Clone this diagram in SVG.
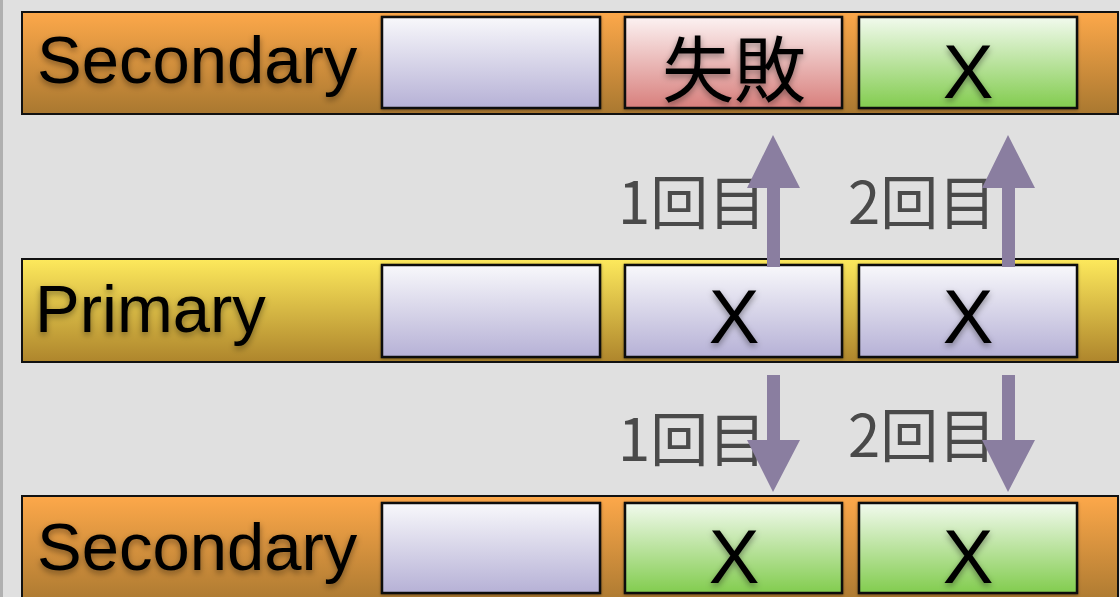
<svg xmlns="http://www.w3.org/2000/svg" width="1120" height="597" viewBox="0 0 1120 597">
<defs>
<linearGradient id="gOrange" x1="0" y1="0" x2="0" y2="1"><stop offset="0" stop-color="#fda84a"/><stop offset="1" stop-color="#a97830"/></linearGradient>
<linearGradient id="gYellow" x1="0" y1="0" x2="0" y2="1"><stop offset="0" stop-color="#fde95c"/><stop offset="1" stop-color="#ae852c"/></linearGradient>
<linearGradient id="gLav" x1="0" y1="0" x2="0" y2="1"><stop offset="0" stop-color="#f8f8fb"/><stop offset="1" stop-color="#b6b1d6"/></linearGradient>
<linearGradient id="gRed" x1="0" y1="0" x2="0" y2="1"><stop offset="0" stop-color="#fcf2f2"/><stop offset="1" stop-color="#d87f7c"/></linearGradient>
<linearGradient id="gGreen" x1="0" y1="0" x2="0" y2="1"><stop offset="0" stop-color="#f2faee"/><stop offset="1" stop-color="#82cc4e"/></linearGradient>
<filter id="tsh" x="-10%" y="-20%" width="120%" height="150%"><feDropShadow dx="0" dy="3" stdDeviation="3" flood-color="#000" flood-opacity="0.4"/></filter>
<filter id="bsh" x="-5%" y="-10%" width="110%" height="130%"><feDropShadow dx="0" dy="1" stdDeviation="1.5" flood-color="#000" flood-opacity="0.35"/></filter>
</defs>
<style>
.bar{stroke:#111;stroke-width:2}
.box{stroke:#111;stroke-width:2.5;filter:url(#bsh)}
.name{font-family:"Liberation Sans",Arial,sans-serif;font-size:67px;fill:#000;filter:url(#tsh)}
.cell{font-family:"Liberation Sans","Noto Sans CJK JP",sans-serif;font-size:76px;fill:#000;text-anchor:middle;filter:url(#tsh)}
.cjk{font-family:"Noto Sans CJK JP",sans-serif;font-size:72px;font-weight:400}
.lbl{font-family:"Noto Sans CJK JP",sans-serif;font-size:58px;font-weight:400;fill:#4a4a4a}
.arr{fill:#8a7ea0}
</style>
<rect x="0" y="0" width="1120" height="597" fill="#e0e0e0"/>
<rect x="0" y="0" width="3" height="597" fill="#b0b0b0"/>

<g id="secondary-top">
<rect class="bar" x="22" y="12" width="1096" height="102" fill="url(#gOrange)"/>
<text class="name" x="37" y="83">Secondary</text>
<rect class="box" x="382" y="17" width="218" height="91" fill="url(#gLav)"/>
<rect class="box" x="625" y="17" width="217" height="91" fill="url(#gRed)"/>
<text class="cell cjk" x="734" y="96">失敗</text>
<rect class="box" x="859" y="17" width="218" height="91" fill="url(#gGreen)"/>
<text class="cell" x="968" y="98">X</text>
</g>

<g id="primary">
<rect class="bar" x="22" y="259" width="1096" height="103" fill="url(#gYellow)"/>
<text class="name" x="35" y="332">Primary</text>
<rect class="box" x="382" y="265" width="218" height="92" fill="url(#gLav)"/>
<rect class="box" x="625" y="265" width="217" height="92" fill="url(#gLav)"/>
<text class="cell" x="734" y="343">X</text>
<rect class="box" x="859" y="265" width="218" height="92" fill="url(#gLav)"/>
<text class="cell" x="968" y="343">X</text>
</g>

<g id="secondary-bottom">
<rect class="bar" x="22" y="496" width="1096" height="110" fill="url(#gOrange)"/>
<text class="name" x="37" y="570">Secondary</text>
<rect class="box" x="382" y="503" width="218" height="90" fill="url(#gLav)"/>
<rect class="box" x="625" y="503" width="217" height="90" fill="url(#gGreen)"/>
<text class="cell" x="734" y="583">X</text>
<rect class="box" x="859" y="503" width="218" height="90" fill="url(#gGreen)"/>
<text class="cell" x="968" y="583">X</text>
</g>

<g id="connectors">
<text class="lbl" x="618" y="224">1回目</text>
<text class="lbl" x="848" y="224">2回目</text>
<text class="lbl" x="618" y="461">1回目</text>
<text class="lbl" x="848" y="457">2回目</text>
<polygon class="arr" points="767,267 780,267 780,188 800,188 773,135 747,188 767,188"/>
<polygon class="arr" points="1002,267 1015,267 1015,188 1035,188 1008,135 982,188 1002,188"/>
<polygon class="arr" points="767,375 780,375 780,440 800,440 773,492 747,440 767,440"/>
<polygon class="arr" points="1002,375 1015,375 1015,440 1035,440 1008,492 982,440 1002,440"/>
</g>
</svg>
